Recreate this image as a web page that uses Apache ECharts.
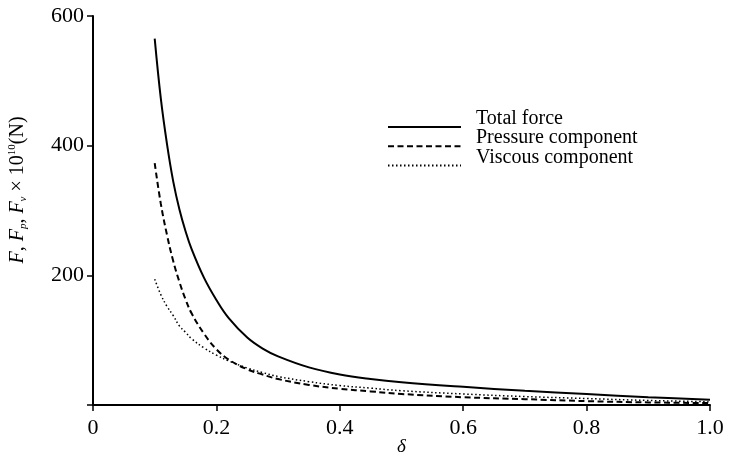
<!DOCTYPE html>
<html>
<head>
<meta charset="utf-8">
<script src="https://cdn.jsdelivr.net/npm/echarts@6/dist/echarts.min.js"></script>
<style>
  html, body { margin: 0; padding: 0; background: #fff; }
  #chart { width: 729px; height: 456px; }
</style>
</head>
<body>
<div id="chart"></div>
<script>
// Gap ratio delta and the force components (x 10^10 N)
const delta    = [0.1, 0.11, 0.12, 0.13, 0.14, 0.15, 0.16, 0.18, 0.2, 0.22, 0.25, 0.275, 0.3, 0.35, 0.4, 0.45, 0.5, 0.6, 0.7, 0.8, 0.9, 1.0];
const total    = [565, 472, 402, 345, 302, 268, 240, 196, 162, 134, 104, 87, 75, 58, 47, 40, 35, 28, 22, 17, 12, 8];
const pressure = [373, 310, 262, 222, 190, 163, 141, 110, 86, 70, 55, 47, 40, 31, 25, 21, 17, 12, 9, 6, 4, 3];
const viscous  = [194, 170, 152, 138, 122, 112, 102, 88, 77, 68, 57, 50, 44, 36, 30, 26, 22, 17, 13, 10, 7, 5];

const xTicks = [0, 0.2, 0.4, 0.6, 0.8, 1.0];
const yTicks = [0, 200, 400, 600];
const seriesNames = ['Total force', 'Pressure component', 'Viscous component'];

const serif = '"Liberation Serif", "DejaVu Serif", serif';
const pairs = ys => delta.map((d, i) => [d, ys[i]]);

const chart = echarts.init(document.getElementById('chart'), null, { renderer: 'canvas' });

const axisLine = { show: true, lineStyle: { color: '#000', width: 2 } };
const axisTick = { show: true, length: 6, lineStyle: { color: '#000', width: 1.5 } };

chart.setOption({
  animation: false,
  backgroundColor: '#fff',
  grid: { left: 93, right: 19, top: 16, bottom: 51, containLabel: false, outerBoundsMode: 'none' },
  xAxis: {
    type: 'value',
    min: xTicks[0], max: xTicks[xTicks.length - 1], interval: 0.2,
    axisLine, axisTick,
    splitLine: { show: false },
    axisLabel: {
      margin: 12, color: '#000', fontFamily: serif, fontSize: 22,
      formatter: v => (v === 0 ? '0' : v.toFixed(1))
    },
    name: 'δ',
    nameLocation: 'middle',
    nameGap: 32,
    nameMoveOverlap: false,
    nameTextStyle: { fontFamily: serif, fontStyle: 'italic', fontSize: 19, color: '#000' }
  },
  yAxis: {
    type: 'value',
    min: yTicks[0], max: yTicks[yTicks.length - 1], interval: 200,
    axisLine, axisTick,
    splitLine: { show: false },
    axisLabel: {
      margin: 9, color: '#000', fontFamily: serif, fontSize: 22,
      formatter: v => (v === 0 ? '' : String(v))
    }
  },
  legend: {
    orient: 'vertical',
    left: 387, top: 109,
    padding: 0,
    itemWidth: 73, itemHeight: 14,
    itemGap: -16.8,
    itemStyle: { opacity: 0 },
    // the label sits a little above its line sample
    formatter: name => '{t|' + name + '}{s|}',
    textStyle: {
      fontFamily: serif, fontSize: 20, color: '#000',
      rich: {
        t: { fontFamily: serif, fontSize: 20, lineHeight: 20, verticalAlign: 'top', padding: [0, 0, 0, 10] },
        s: { lineHeight: 36, height: 36, width: 0 }
      }
    },
    data: seriesNames
  },
  graphic: [{
    type: 'text',
    x: 18, y: 190,
    rotation: Math.PI / 2,
    style: {
      text: '{i|F}, {i|F}{sub|p}, {i|F}{sub|ν} × 10{sup|10}(N)',
      fontFamily: serif, fontSize: 20, fill: '#000',
      align: 'center', verticalAlign: 'middle',
      rich: {
        i: { fontFamily: serif, fontStyle: 'italic', fontSize: 20, lineHeight: 22 },
        sub: { fontFamily: serif, fontStyle: 'italic', fontSize: 11, lineHeight: 11, verticalAlign: 'bottom' },
        sup: { fontFamily: serif, fontSize: 11, lineHeight: 11, verticalAlign: 'top' }
      }
    }
  }],
  series: [
    {
      name: seriesNames[0], type: 'line', data: pairs(total),
      smooth: 0.4, symbol: 'none',
      lineStyle: { color: '#000', width: 2, type: 'solid' },
      itemStyle: { color: '#000' }
    },
    {
      name: seriesNames[1], type: 'line', data: pairs(pressure),
      smooth: 0.4, symbol: 'none',
      lineStyle: { color: '#000', width: 2, type: [6, 3.5] },
      itemStyle: { color: '#000' }
    },
    {
      name: seriesNames[2], type: 'line', data: pairs(viscous),
      smooth: 0.4, symbol: 'none',
      lineStyle: { color: '#000', width: 1.5, type: [1.5, 2.5] },
      itemStyle: { color: '#000' }
    }
  ]
});
</script>
</body>
</html>
